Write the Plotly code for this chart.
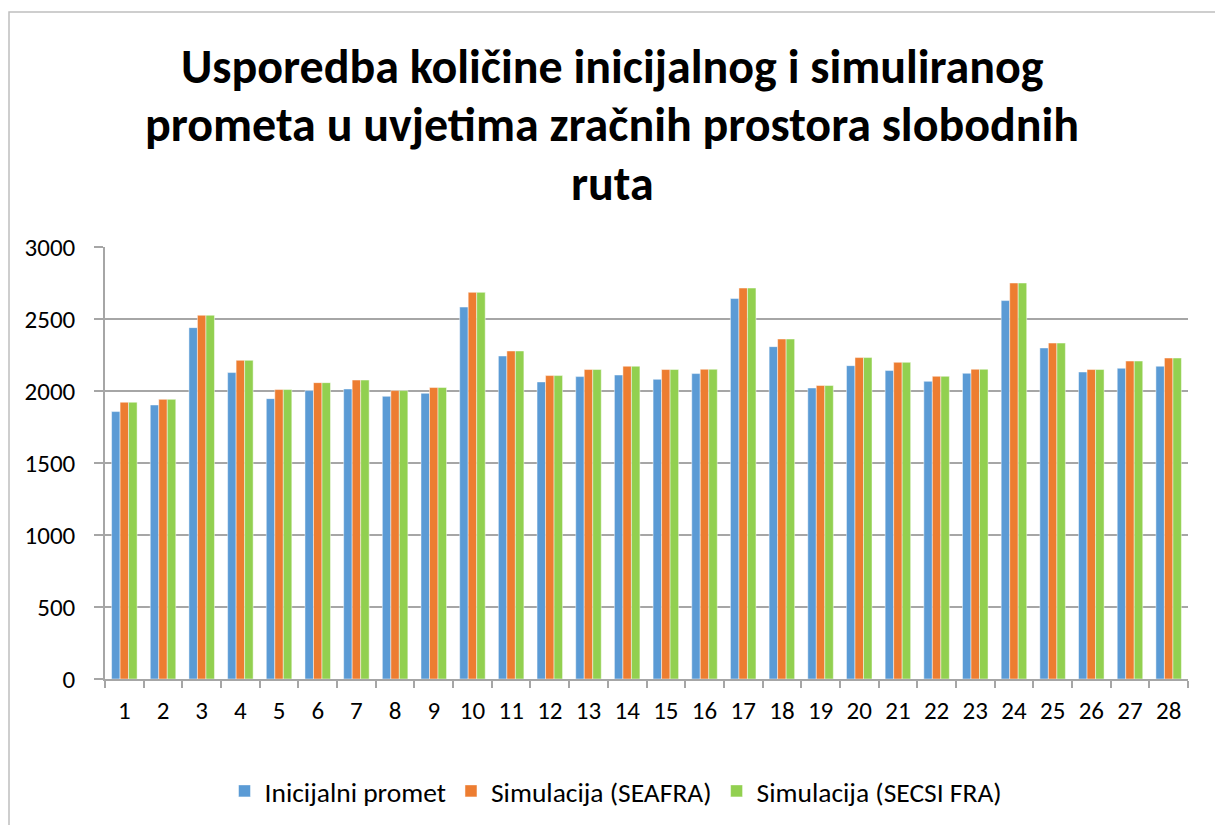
import plotly.graph_objects as go

categories = [str(i) for i in range(1, 29)]
inicijalni = [1857, 1903, 2440, 2128, 1947, 2003, 2014, 1963, 1984, 2583,
              2243, 2063, 2100, 2111, 2081, 2121, 2642, 2308, 2021, 2176,
              2142, 2067, 2123, 2628, 2299, 2132, 2158, 2172]
seafra = [1922, 1942, 2526, 2213, 2010, 2058, 2076, 2003, 2024, 2685,
          2278, 2107, 2149, 2172, 2149, 2151, 2715, 2361, 2038, 2232,
          2199, 2102, 2151, 2750, 2333, 2149, 2208, 2229]
secsi = [1922, 1942, 2526, 2213, 2010, 2058, 2076, 2003, 2024, 2685,
         2278, 2107, 2149, 2172, 2149, 2151, 2715, 2361, 2038, 2232,
         2199, 2102, 2151, 2750, 2333, 2149, 2208, 2229]
series_names = ["Inicijalni promet", "Simulacija (SEAFRA)", "Simulacija (SECSI FRA)"]
colors = ["#5B9BD5", "#ED7D31", "#92D050"]
title_lines = ["Usporedba količine inicijalnog i simuliranog",
               "prometa u uvjetima zračnih prostora slobodnih",
               "ruta"]

FONT = "Carlito, Calibri, Lato, 'Open Sans', sans-serif"
W, H = 1215, 825
L, R, T, B = 105, 27, 247, 146
PH = H - T - B
PW = W - L - R


def py(pix):
    return (H - B - pix) / PH


def px(pix):
    return (pix - L) / PW


fig = go.Figure()
for name, vals, col in zip(series_names, [inicijalni, seafra, secsi], colors):
    fig.add_trace(go.Bar(x=categories, y=vals, name=name,
                         marker=dict(color=col, line=dict(color="rgba(255,255,255,0.6)", width=0.8))))

fig.update_layout(
    width=W, height=H,
    margin=dict(l=L, r=R, t=T, b=B, autoexpand=False),
    paper_bgcolor="white", plot_bgcolor="white",
    barmode="group", bargap=0.34, bargroupgap=0,
    font=dict(family=FONT, size=25, color="black"),
    legend=dict(orientation="h", x=px(616), xanchor="center", y=py(791), yanchor="middle",
                font=dict(size=27.5), itemwidth=30, traceorder="normal"),
    showlegend=True,
)
fig.update_yaxes(range=[0, 3000], dtick=500, showgrid=True, gridcolor="#A6A6A6", gridwidth=1.5,
                 showline=True, linecolor="#A6A6A6", linewidth=1.5,
                 ticks="outside", ticklen=9, tickcolor="#A6A6A6", tickwidth=1.5,
                 tickfont=dict(size=25), ticklabelstandoff=14, zeroline=False)
fig.update_xaxes(type="category", showline=True, linecolor="#A6A6A6", linewidth=1.5,
                 ticks="outside", tickson="boundaries", ticklen=7, tickcolor="#A6A6A6", tickwidth=1.5,
                 tickfont=dict(size=25), ticklabelstandoff=8, showgrid=False)

for line, yc in zip(title_lines, [66, 125, 183]):
    fig.add_annotation(text="<b>" + line + "</b>", xref="paper", yref="paper",
                       x=px(612), xanchor="center", y=py(yc), yanchor="middle",
                       showarrow=False, font=dict(size=48, family=FONT), align="center")

# outer chart border
fig.add_shape(type="rect", xref="paper", yref="paper",
              x0=px(9), x1=px(1230), y0=py(840), y1=py(12),
              line=dict(color="#BFBFBF", width=1.5), fillcolor="rgba(0,0,0,0)", layer="below")

fig.write_html("out.html", config={"displayModeBar": False},
               post_script="document.body.style.margin='0';document.body.style.overflow='hidden';")
